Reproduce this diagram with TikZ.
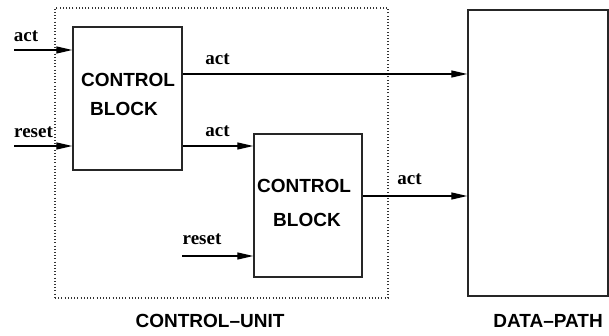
\documentclass[tikz,border=0pt]{standalone}
\usepackage{fontspec}
\setmainfont{Liberation Serif}
\setsansfont{Liberation Sans}
\usetikzlibrary{arrows.meta}
\begin{document}
\begin{tikzpicture}[x=1pt,y=-1pt,
  blockbox/.style={draw=black!85,line width=1.4pt,minimum width=#1,inner sep=0pt},
  arr/.style={line width=1.3pt,-{Triangle[length=16pt,width=7pt]}},
  wire/.style={line width=1.3pt},
  sig/.style={font=\fontsize{19}{21}\selectfont\bfseries,inner sep=0pt},
  blk/.style={font=\fontsize{19}{21}\selectfont\sffamily\bfseries,inner sep=0pt},
  unit/.style={draw=black!80,line width=1.1pt,dash pattern=on 1pt off 2.2pt}]
\useasboundingbox (0,0) rectangle (609,336);

% control unit boundary
\node[unit,minimum width=333pt,minimum height=290pt,inner sep=0pt] (cu) at (221.5,153) {};

% the two control blocks and the data path
\node[blockbox=109pt,minimum height=143pt] (b1) at (127.5,98.5) {};
\node[blockbox=108pt,minimum height=143pt] (b2) at (308,205.5) {};
\node[blockbox=140pt,minimum height=286pt] (dp) at (538,153) {};

\node[blk] at (128,80) {CONTROL};
\node[blk] at (124,109) {BLOCK};
\node[blk] at (304,186) {CONTROL};
\node[blk] at (307,220) {BLOCK};

\node[blk] (cul) at (210,321) {CONTROL--UNIT};
\node[blk] (dpl) at (548,321) {DATA--PATH};

% external inputs
\coordinate (actin) at (14,50);
\coordinate (rstin) at (14,146);
\coordinate (rst2in) at (182,256);
\draw[arr] (actin) -- (actin -| b1.west);
\draw[arr] (rstin) -- (rstin -| b1.west);
\draw[arr] (rst2in) -- (rst2in -| b2.west);

% block outputs
\coordinate (o1) at (182,74);
\coordinate (o2) at (182,146);
\coordinate (o3) at (362,196);
\draw[arr] (o1 -| b1.east) -- (o1 -| dp.west);
\draw[arr] (o2 -| b1.east) -- (o2 -| b2.west);
\draw[arr] (o3 -| b2.east) -- (o3 -| dp.west);

% signal names
\node[sig] (l1) at (26,36) {act};
\node[sig] (l2) at (33.5,132) {reset};
\node[sig] (l3) at (217.5,59) {act};
\node[sig] (l4) at (217.5,131) {act};
\node[sig] (l5) at (409.5,179) {act};
\node[sig] (l6) at (202,239) {reset};
\end{tikzpicture}
\end{document}
